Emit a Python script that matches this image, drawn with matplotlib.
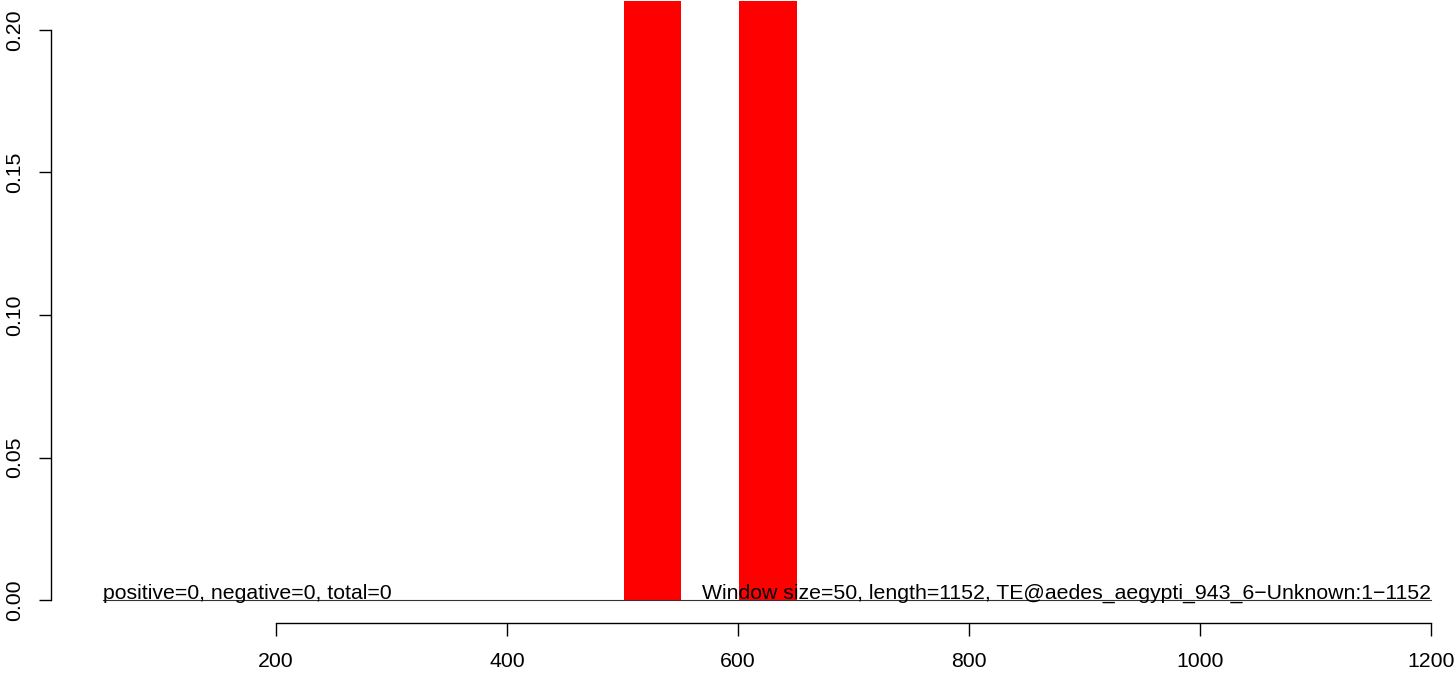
import matplotlib.pyplot as plt

# sliding window counts
window_size = 50
seq_length = 1152
window_starts = [501, 601]
window_values = [0.21, 0.21]

x_ticks = [200, 400, 600, 800, 1000, 1200]
y_ticks = [0.00, 0.05, 0.10, 0.15, 0.20]

left_note = "positive=0, negative=0, total=0"
right_note = ("Window size=50, length=1152, "
              "TE@aedes_aegypti_943_6\u2212Unknown:1\u22121152")

plt.rcParams['font.family'] = ['Liberation Sans', 'DejaVu Sans']
FS = 15.3

W, H = 1456, 674
fig = plt.figure(figsize=(W / 100, H / 100), dpi=100)
# axes box in pixels: left 51, right 1450, top 7, bottom 623
ax = fig.add_axes([51 / W, (H - 623) / H, (1450 - 51) / W, (623 - 7) / H])

ax.bar(window_starts, window_values, width=window_size, align='edge',
       color='#ff0000', edgecolor='none', clip_on=False, zorder=2)
ax.plot([50, 1200], [0, 0], color='#333333', lw=0.8, zorder=3)

ax.text(50, 0.0004, left_note, ha='left', va='baseline', fontsize=FS, zorder=4)
ax.text(1200, 0.0004, right_note, ha='right', va='baseline', fontsize=FS, zorder=4)

ax.set_xlim(5.2, 1216.5)
ax.set_ylim(-0.008, 0.208)

for side in ['top', 'right']:
    ax.spines[side].set_visible(False)
ax.spines['left'].set_bounds(0, 0.2)
ax.spines['bottom'].set_bounds(200, 1200)
ax.spines['left'].set_linewidth(1.0)
ax.spines['bottom'].set_linewidth(1.0)

ax.set_xticks(x_ticks)
ax.set_xticklabels([str(t) for t in x_ticks])
ax.set_yticks(y_ticks)
ax.set_yticklabels([f"{t:.2f}" for t in y_ticks], rotation=90, va='center')
ax.tick_params(axis='both', direction='out', length=9, width=1.0,
               labelsize=FS)
ax.tick_params(axis='x', pad=12)
ax.tick_params(axis='y', pad=10)

fig.savefig('out.png', dpi=100)
